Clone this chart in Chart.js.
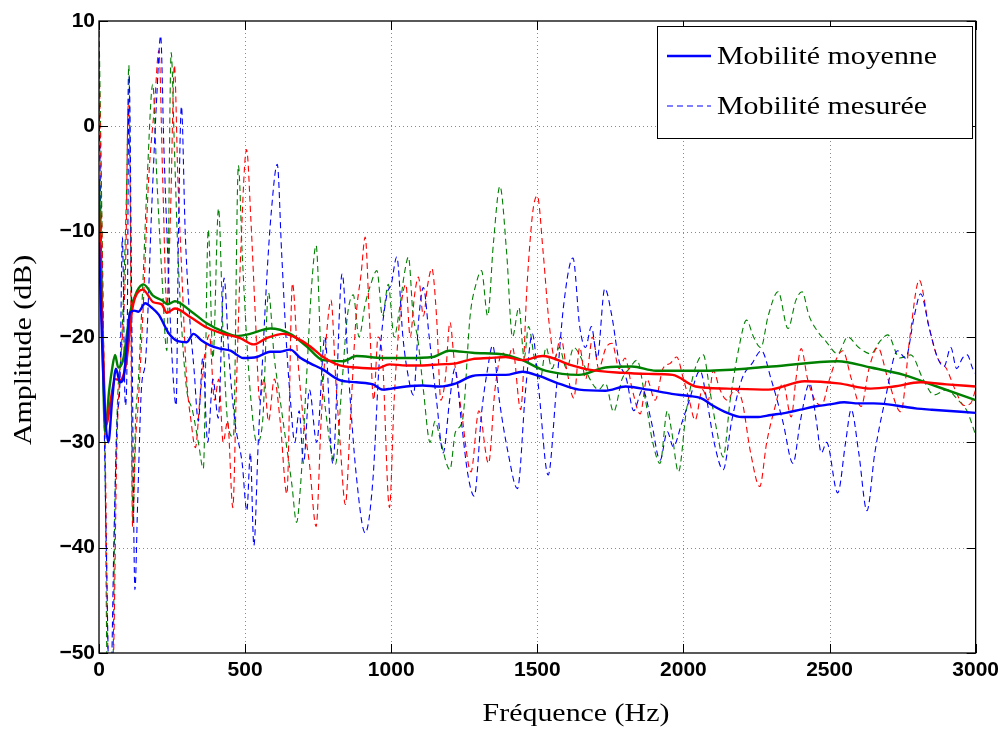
<!DOCTYPE html>
<html><head><meta charset="utf-8">
<script src="https://cdn.jsdelivr.net/npm/chart.js@4.4.1/dist/chart.umd.min.js"></script>
<style>html,body{margin:0;padding:0;background:#fff;} canvas{display:block;}</style>
</head><body>
<canvas id="c" width="1004" height="729"></canvas>
<script>
// ---- tick labels / texts ----
const xTickValues = [0,500,1000,1500,2000,2500,3000];
const yTickValues = [-50,-40,-30,-20,-10,0,10];
const xTitle = 'Fréquence (Hz)';
const yTitle = 'Amplitude (dB)';
const legendLabels = ['Mobilité moyenne','Mobilité mesurée'];

// ---- mean mobility (solid) ----
const blueMeanHz = [0,10,20,32,45,58,72,83,95,106,120,135,158,180,205,240,270,300,323,350,380,414,450,494,540,586,620,654,690,723,767,824,881,938,972,1000,1051,1108,1165,1222,1278,1335,1392,1449,1506,1562,1643,1733,1802,1880,1960,2020,2060,2100,2150,2200,2250,2300,2350,2400,2450,2500,2550,2600,2650,2700,2750,2800,2850,2900,2950,3000];
const blueMeanDb = [-11,-20,-27,-30,-26,-23,-24.3,-24,-21,-17.7,-17.5,-17.6,-16.8,-17.2,-17.9,-19.7,-20.4,-20.5,-19.7,-20.3,-20.8,-21.1,-21.3,-22,-21.9,-21.4,-21.4,-21.2,-22,-22.5,-23.1,-24.1,-24.3,-24.5,-25,-24.9,-24.7,-24.6,-24.7,-24.4,-23.7,-23.6,-23.6,-23.3,-23.7,-24.3,-25,-25.1,-24.7,-25,-25.4,-25.6,-25.8,-26.5,-27.2,-27.6,-27.6,-27.4,-27.2,-26.9,-26.6,-26.4,-26.2,-26.3,-26.3,-26.4,-26.6,-26.8,-26.9,-27.0,-27.1,-27.2];

const redMeanHz = [0,10,26,40,55,72,83,95,112,123,150,186,215,232,260,312,369,426,483,529,574,631,677,723,767,824,881,949,994,1051,1108,1165,1222,1278,1335,1392,1449,1517,1619,1676,1790,1880,1963,2042,2150,2291,2415,2530,2641,2720,2811,2900,3000];
const redMeanDb = [-8,-18,-28.3,-26,-24,-24.1,-23.7,-22.1,-17.7,-16.3,-15.5,-16.7,-16.9,-17.7,-17.3,-18.1,-19.1,-19.7,-20.1,-20.7,-20.1,-19.7,-20.1,-20.9,-21.9,-22.7,-22.9,-23,-22.6,-22.7,-22.7,-22.6,-22.5,-22.1,-22,-21.9,-22.2,-21.8,-22.7,-23.1,-23.4,-23.5,-23.6,-24.7,-24.9,-25,-24.2,-24.4,-24.9,-24.7,-24.3,-24.5,-24.7];

const greenMeanHz = [0,8,21,35,45,55,66,83,106,129,152,186,215,235,260,312,369,426,471,517,586,654,711,767,835,881,972,1051,1142,1199,1278,1392,1449,1517,1585,1642,1733,1824,1906,2076,2302,2528,2641,2754,2867,3000];
const greenMeanDb = [-5,-15,-28.9,-25,-23,-21.7,-22.9,-22.1,-17.7,-15.7,-15,-16.1,-16.5,-16.9,-16.6,-17.5,-18.7,-19.5,-19.9,-19.7,-19.2,-19.7,-20.9,-22.2,-22.3,-21.8,-22,-22,-21.9,-21.3,-21.5,-21.7,-22.2,-23.1,-23.5,-23.6,-22.9,-22.8,-23.2,-23.2,-22.8,-22.3,-22.9,-23.6,-24.7,-26];

// ---- measured mobility (dashed) ----
const blueMeasHz = [0,12,25,38,52,62,72,80,90,96,103,113,123,132,145,160,180,198,211,222,235,250,264,272,282,295,310,325,340,355,372,390,408,428,445,465,490,506,518,530,545,560,575,590,610,625,640,655,670,685,700,720,745,773,800,832,855,880,911,937,960,985,1000,1019,1040,1060,1076,1095,1110,1130,1155,1178,1200,1218,1240,1262,1284,1310,1330,1347,1370,1400,1432,1460,1483,1505,1537,1565,1590,1622,1645,1665,1685,1705,1731,1755,1779,1805,1830,1860,1890,1920,1945,1965,1994,2020,2057,2080,2105,2136,2165,2200,2235,2267,2300,2340,2375,2400,2432,2455,2472,2490,2528,2555,2574,2600,2628,2655,2690,2733,2760,2790,2812,2840,2870,2892,2915,2935,2955,2971,2990,3000];
const blueMeasDb = [2,-18,-40,-56,-38,-28,-24,-10.5,-26.5,-22,4.8,-20,-44,-36,-25,-22,-8,3,8.6,-2,-12,-22,-26.5,-10,1.9,-10,-18,-23,-28,-22,-30,-24,-27.7,-14.4,-22,-28,-32,-36.5,-31,-39.8,-30,-22,-14,-8,-3.6,-12,-20,-26,-30,-27,-32,-25,-30,-20,-32,-14,-24,-33,-38.6,-33.7,-22,-16,-15,-12.4,-20,-24,-25.5,-18,-15.3,-20,-26,-31,-26,-23,-28,-33,-35.1,-27,-23,-20.8,-26,-31,-34.4,-25,-19.7,-25,-33.1,-25,-17,-12.5,-19,-21,-19,-22,-15.4,-18,-22.2,-24,-27,-25,-28,-31.7,-29,-30.4,-28.2,-26,-23.2,-26,-30,-32.6,-28,-24,-22.5,-21.3,-24,-28,-32,-28,-24.4,-28,-31,-30,-34.8,-30,-26.9,-31,-36.5,-31,-26,-21.3,-22,-18,-15.9,-19,-22,-22.8,-21,-23,-22,-21.7,-23,-23.5];

const redMeasHz = [0,10,22,35,50,60,70,80,92,100,106,115,125,135,150,170,190,205,218,232,245,258,270,285,300,315,330,345,360,378,395,410,425,440,458,470,485,505,520,535,550,565,580,600,620,643,662,680,700,720,743,760,778,794,810,825,843,860,880,897,911,925,940,955,970,994,1010,1030,1050,1065,1080,1093,1110,1125,1139,1155,1170,1185,1201,1215,1240,1273,1300,1333,1355,1380,1400,1415,1443,1465,1485,1500,1520,1540,1560,1580,1600,1625,1645,1665,1690,1710,1735,1756,1780,1800,1825,1852,1875,1903,1930,1955,1977,2000,2020,2040,2065,2085,2102,2125,2150,2175,2200,2230,2261,2285,2310,2341,2369,2385,2403,2425,2450,2472,2500,2525,2545,2575,2608,2635,2665,2700,2744,2775,2807,2840,2870,2900,2930,2960,2983,3000];
const redMeasDb = [7,-10,-32,-55,-50,-32,-24,-20,-12,2,-5,-38,-30,-26,-18,-5,2,7.2,-5,-17,-8,5.8,-5,-15,-24,-28,-30.5,-26,-22,-19.8,-26,-24,-30,-28,-36.2,-25,-12,-2.2,-9,-18,-26,-24,-28,-24,-28,-34.9,-14.9,-22,-28,-32,-38,-28,-20,-16.5,-24,-30,-35.9,-28,-18,-14,-10.5,-18,-26,-20,-22,-36.2,-26,-18,-15,-20,-16,-14.3,-18,-15,-13.5,-18,-26,-24,-18.6,-22,-27,-32.8,-27,-32,-25,-21.5,-22,-21,-26.9,-15,-8,-6.6,-12,-18.6,-22,-20,-23,-25.8,-21,-24,-20,-23,-21,-20.6,-23,-22,-25,-27.3,-24,-26,-23,-22.5,-21.9,-24,-26,-27.9,-25,-26,-23.2,-25,-26,-25,-26,-31,-34.2,-30,-27,-24.4,-27.6,-24,-21.1,-24,-26,-26.5,-24,-22,-21.3,-24,-26.6,-23,-21,-24,-27.1,-20,-14.6,-19,-22,-23,-25,-26.5,-26.3,-25];

const greenMeasHz = [0,8,20,30,45,55,65,75,85,95,102,108,116,125,135,150,165,184,198,215,232,247,258,270,285,300,320,340,357,374,390,409,425,440,460,477,490,505,520,540,560,580,600,620,640,660,676,690,710,728,743,760,780,809,830,850,870,890,910,930,951,970,990,1010,1030,1045,1059,1075,1090,1110,1133,1150,1170,1201,1220,1244,1270,1290,1309,1330,1350,1372,1395,1415,1437,1455,1470,1490,1510,1530,1550,1575,1600,1625,1650,1680,1710,1733,1761,1790,1815,1841,1870,1895,1920,1945,1960,1983,2010,2040,2068,2090,2115,2136,2160,2190,2216,2240,2265,2290,2324,2358,2385,2406,2430,2460,2490,2528,2562,2600,2642,2670,2699,2740,2778,2820,2858,2900,2940,2970,3000];
const greenMeasDb = [10,-5,-30,-55,-55,-35,-25,-22,-15,-5,5.8,-8,-37.6,-28,-24,-15,-5,4,-5,-14,-21.3,7,-2,-12,-20,-25,-27,-30,-32.5,-9.8,-22,-7.8,-20,-28,-29.5,-3.7,-12,-20,-26,-30,-28,-15.8,-22,-26,-30,-34,-37.6,-34,-24,-15,-11.3,-22,-28,-32.1,-25,-18,-16,-20,-17,-15,-13.7,-18,-15,-20,-17,-14,-12.4,-18,-20,-25,-30,-28,-30,-32.6,-29,-27.9,-18,-15,-13.7,-18,-11,-5.7,-12,-20,-17.2,-22,-19,-22,-24,-21,-23,-21,-23,-21,-22,-24,-25,-24.4,-27.1,-24,-23,-22.2,-26,-30,-32,-27,-29,-32.8,-27,-23,-21.7,-25,-29,-31.4,-26,-21,-18.4,-20,-21,-18,-15.7,-19.2,-16.5,-15.7,-18,-19.5,-20.5,-21.6,-20,-21,-21.6,-20.5,-19.8,-22,-21.7,-24,-25.5,-25,-26,-27,-29.3];

// ---- build chart ----
function pts(hz, db){ return hz.map((x,i)=>({x:x, y:db[i]})); }
function solid(label, hz, db, color){
  return {label, data: pts(hz,db), borderColor: color, backgroundColor: color, borderWidth: 2.4,
    pointRadius: 0, fill: false, cubicInterpolationMode: 'monotone'};
}
function dashed(label, hz, db, color){
  return {label, data: pts(hz,db), borderColor: color, backgroundColor: color, borderWidth: 1.1,
    borderDash: [6,4], pointRadius: 0, fill: false, cubicInterpolationMode: 'monotone'};
}

const SERIF = '"Liberation Serif", "Times New Roman", serif';
function drawStretched(ctx, text, x, y, align, rot){
  ctx.save();
  ctx.translate(x, y);
  if (rot) ctx.rotate(rot);
  ctx.scale(1.15, 1);
  ctx.font = '26px ' + SERIF;
  ctx.fillStyle = '#000';
  ctx.textAlign = align;
  ctx.textBaseline = 'alphabetic';
  ctx.fillText(text, 0, 0);
  ctx.restore();
}

const framePlugin = {
  id: 'frame',
  beforeDatasetsDraw(chart){
    const {ctx, chartArea: a, scales: {x, y}} = chart;
    ctx.save();
    ctx.strokeStyle = '#8a8a8a'; ctx.lineWidth = 1; ctx.setLineDash([1,3]);
    xTickValues.forEach(v => {
      if (v === x.min || v === x.max) return;
      const px = Math.round(x.getPixelForValue(v)) + 0.5;
      ctx.beginPath(); ctx.moveTo(px, a.top); ctx.lineTo(px, a.bottom); ctx.stroke();
    });
    yTickValues.forEach(v => {
      if (v === y.min || v === y.max) return;
      const py = Math.round(y.getPixelForValue(v)) + 0.5;
      ctx.beginPath(); ctx.moveTo(a.left, py); ctx.lineTo(a.right, py); ctx.stroke();
    });
    ctx.restore();
  },
  afterDatasetsDraw(chart){
    const {ctx, chartArea: a, scales: {x, y}} = chart;
    ctx.save();
    ctx.setLineDash([]);
    ctx.strokeStyle = '#000'; ctx.lineWidth = 1.3;
    ctx.strokeRect(a.left, a.top, a.right - a.left, a.bottom - a.top);
    ctx.lineWidth = 1;
    const tl = 9;
    xTickValues.forEach(v => {
      const px = Math.round(x.getPixelForValue(v)) + 0.5;
      ctx.beginPath();
      ctx.moveTo(px, a.bottom); ctx.lineTo(px, a.bottom - tl);
      ctx.moveTo(px, a.top); ctx.lineTo(px, a.top + tl);
      ctx.stroke();
    });
    yTickValues.forEach(v => {
      const py = Math.round(y.getPixelForValue(v)) + 0.5;
      ctx.beginPath();
      ctx.moveTo(a.left, py); ctx.lineTo(a.left + tl, py);
      ctx.moveTo(a.right, py); ctx.lineTo(a.right - tl, py);
      ctx.stroke();
    });
    ctx.restore();
  },
  afterDraw(chart){
    const ctx = chart.ctx;
    // axis titles
    drawStretched(ctx, xTitle, 576, 721, 'center', 0);
    drawStretched(ctx, yTitle, 31, 350, 'center', -Math.PI/2);
    // legend
    ctx.save();
    ctx.fillStyle = '#fff';
    ctx.fillRect(657, 26, 315, 113);
    ctx.strokeStyle = '#000'; ctx.lineWidth = 1; ctx.setLineDash([]);
    ctx.strokeRect(657.5, 26.5, 315, 112);
    const ds = chart.data.datasets;
    const rows = [{d: ds[0], y: 56, t: legendLabels[0]}, {d: ds[3], y: 106, t: legendLabels[1]}];
    rows.forEach(r => {
      ctx.strokeStyle = r.d.borderColor;
      ctx.lineWidth = r.d.borderWidth;
      ctx.setLineDash(r.d.borderDash || []);
      ctx.beginPath(); ctx.moveTo(667, r.y); ctx.lineTo(711, r.y); ctx.stroke();
      ctx.setLineDash([]);
      drawStretched(ctx, r.t, 717, r.y + 8, 'left', 0);
    });
    ctx.restore();
  }
};

const tickFont = {family: '"Liberation Sans", Arial, sans-serif', size: 21, weight: 'bold'};

new Chart(document.getElementById('c'), {
  type: 'line',
  data: {
    datasets: [
      solid(legendLabels[0], blueMeanHz, blueMeanDb, '#0000ff'),
      solid(legendLabels[0] + ' 2', redMeanHz, redMeanDb, '#ff0000'),
      solid(legendLabels[0] + ' 3', greenMeanHz, greenMeanDb, '#008000'),
      dashed(legendLabels[1], blueMeasHz, blueMeasDb, '#0000ff'),
      dashed(legendLabels[1] + ' 2', redMeasHz, redMeasDb, '#ff0000'),
      dashed(legendLabels[1] + ' 3', greenMeasHz, greenMeasDb, '#008000')
    ]
  },
  options: {
    responsive: false,
    animation: false,
    devicePixelRatio: 1,
    layout: {padding: {top: 21, right: 26, left: 0, bottom: 0}},
    plugins: {legend: {display: false}, tooltip: {enabled: false}},
    scales: {
      x: {
        type: 'linear', min: 0, max: 3000,
        grid: {display: false, drawTicks: false}, border: {display: false},
        afterBuildTicks: s => { s.ticks = xTickValues.map(v => ({value: v})); },
        afterFit: s => { s.height = 76; },
        ticks: {font: tickFont, color: '#000', padding: 5, maxRotation: 0, autoSkip: false,
          callback: v => String(v)}
      },
      y: {
        type: 'linear', min: -50, max: 10,
        grid: {display: false, drawTicks: false}, border: {display: false},
        afterBuildTicks: s => { s.ticks = yTickValues.map(v => ({value: v})); },
        afterFit: s => { s.width = 99; },
        ticks: {font: tickFont, color: '#000', padding: 4, autoSkip: false,
          callback: v => v < 0 ? '\u2212' + Math.abs(v) : String(v)}
      }
    }
  },
  plugins: [framePlugin]
});
</script>
</body></html>
